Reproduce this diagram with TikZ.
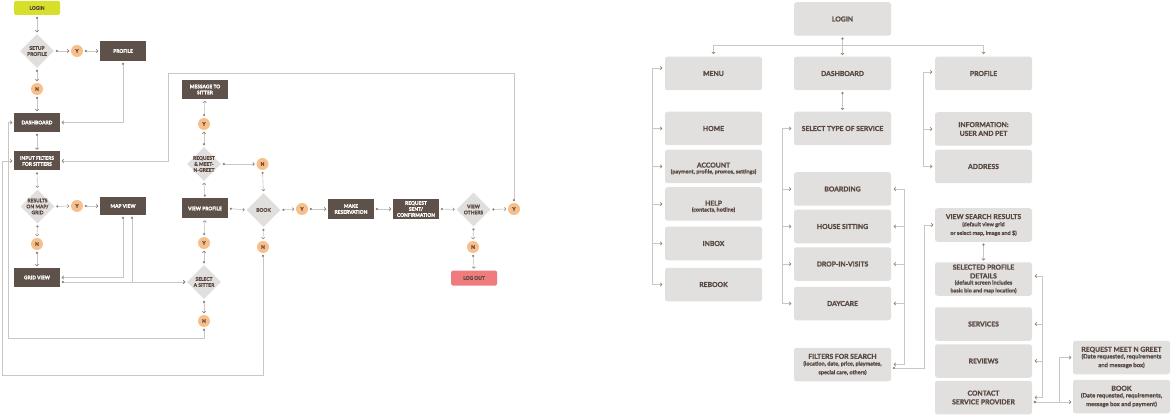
\documentclass[tikz,border=0pt]{standalone}
\usepackage{fontspec}
\setmainfont{Lato}[BoldFeatures={FakeBold=1.4}]
\usetikzlibrary{shapes.geometric,arrows.meta}
\definecolor{brownbox}{HTML}{5E514A}
\definecolor{tbrown}{HTML}{5B4A42}
\definecolor{diag}{HTML}{E0DFDE}
\definecolor{peach}{HTML}{F9BF8B}
\definecolor{lime}{HTML}{D6E02B}
\definecolor{salmon}{HTML}{F07B7D}
\definecolor{rgray}{HTML}{E1E0DF}
\definecolor{lineg}{HTML}{C9C6C4}
\definecolor{tipg}{HTML}{8C827D}
\newcommand\fLeft{\fontsize{4.9}{6}\selectfont\bfseries}
\newcommand\fRt{\fontsize{6.8}{8.7}\selectfont\bfseries}
\newcommand\fSub{\fontsize{5.5}{6.8}\selectfont\bfseries}
\newcommand\fSubB{\fontsize{5.9}{7}\selectfont\bfseries}
\begin{document}
\begin{tikzpicture}[x=1pt,y=-1pt,
 bbox/.style={fill=brownbox,text=white,minimum width=46pt,minimum height=19pt,inner sep=0pt,align=center,font=\fLeft},
 dia/.style={shape=diamond,fill=diag,minimum width=34pt,minimum height=34pt,inner sep=0pt},
 dtxt/.style={text=tbrown,align=center,font=\fLeft,inner sep=0pt},
 circ/.style={circle,fill=peach,minimum size=12pt,inner sep=0pt,text=tbrown,font=\fLeft},
 rbox/.style={fill=rgray,rounded corners=2.5pt,minimum width=97pt,minimum height=33.5pt,inner sep=0pt,align=center,text=tbrown,font=\fRt},
 c/.style={draw=lineg,line width=.6pt,{Diamond[length=2.4pt,width=2.4pt,color=tipg]}-{Straight Barb[length=1.6pt,width=3.2pt,color=tipg]},shorten <=1.5pt,shorten >=1.5pt},
 ch/.style={draw=lineg,line width=.6pt,-{Straight Barb[length=1.6pt,width=3.2pt,color=tipg]},shorten >=2.5pt},
 chh/.style={draw=lineg,line width=.6pt,{Straight Barb[length=1.6pt,width=3.2pt,color=tipg]}-{Straight Barb[length=1.6pt,width=3.2pt,color=tipg]},shorten <=2.5pt,shorten >=2.5pt}
]
\useasboundingbox[fill=white] (0,0) rectangle (1171,417);
% ---------------- left flowchart ----------------
\node[fill=lime,rounded corners=1.5pt,minimum width=46pt,minimum height=14pt,inner sep=0pt,text=tbrown,font=\fLeft] (llogin) at (37,8) {LOGIN};
\node[dia,label={[dtxt]center:SETUP\\PROFILE}] (setup) at (37,51) {};
\node[circ] (y1) at (77,51) {Y};
\node[bbox,minimum height=20pt] (lprofile) at (123,51) {PROFILE};
\node[circ] (n1) at (37,89) {N};
\node[bbox] (ldash) at (37,122.5) {DASHBOARD};
\node[bbox] (input) at (37,161) {INPUT FILTERS\\FOR SITTERS};
\node[dia,label={[dtxt]center:RESULTS\\ON MAP/\\GRID}] (results) at (37.5,206.5) {};
\node[circ] (y2) at (77,206) {Y};
\node[bbox,minimum height=18pt] (mapv) at (123,206) {MAP VIEW};
\node[circ] (n2) at (37,244) {N};
\node[bbox] (gridv) at (37,277.5) {GRID VIEW};
\node[dia,label={[dtxt]center:SELECT\\A SITTER}] (select) at (204,282) {};
\node[circ] (n6) at (204,321) {N};
\node[circ] (y3) at (204,243) {Y};
\node[bbox,minimum height=20pt] (viewp) at (205,208.5) {VIEW PROFILE};
\node[dia,label={[dtxt]center:REQUEST\\\& MEET-\\N-GREET}] (reqm) at (204,164) {};
\node[circ] (y4) at (204,124) {Y};
\node[bbox] (msg) at (205,89.5) {MESSAGE TO\\SITTER};
\node[circ] (n3) at (262.5,164) {N};
\node[dia,label={[dtxt]center:BOOK}] (lbook) at (263.5,210) {};
\node[circ] (y5) at (302,209) {Y};
\node[circ] (n4) at (263,247) {N};
\node[bbox,minimum height=20pt] (make) at (351,209) {MAKE\\RESERVATION};
\node[bbox,minimum height=20pt] (sent) at (416,209) {REQUEST\\SENT/\\CONFIRMATION};
\node[dia,label={[dtxt]center:VIEW\\OTHERS}] (others) at (473.5,209.5) {};
\node[circ] (y6) at (514,209) {Y};
\node[circ] (n5) at (473,247) {N};
\node[fill=salmon,rounded corners=1.5pt,minimum width=46pt,minimum height=15pt,inner sep=0pt,text=tbrown,font=\fLeft] (logout) at (474,278) {LOG OUT};
\coordinate (lo) at (2,375);
\coordinate (li) at (8,338);
\coordinate (tl) at (168,73);
\draw[c] (llogin.south) -- (setup.north);
\draw[c] (setup.east) -- (y1.west);
\draw[c] (y1.east) -- (lprofile.west);
\draw[c] (setup.south) -- (n1.north);
\draw[c] (n1.south) -- (ldash.north);
\draw[c] (lprofile.south) |- (ldash.east);
\draw[c] (ldash.south) -- (input.north);
\draw[c] (input.south) -- (results.north);
\draw[c] (results.east) -- (y2.west);
\draw[c] (y2.east) -- (mapv.west);
\draw[c] (results.south) -- (n2.north);
\draw[c] (n2.south) -- (gridv.north);
\draw[c] (mapv.south) |- (gridv.east);
\draw[c] ([yshift=-4.5pt]gridv.east) -- (select.west);
\draw[c] ([xshift=9pt]mapv.south) |- (select.west);
\draw[c] (select.north) -- (y3.south);
\draw[c] (y3.north) -- (viewp.south);
\draw[c] (viewp.north) -- (reqm.south);
\draw[c] (reqm.north) -- (y4.south);
\draw[c] (y4.north) -- (msg.south);
\draw[c] (reqm.east) -- (n3.west);
\draw[c] (n3.south) -- (lbook.north);
\draw[c] (viewp.east) -- (lbook.west);
\draw[c] (lbook.east) -- (y5.west);
\draw[c] (y5.east) -- (make.west);
\draw[c] (make.east) -- (sent.west);
\draw[c] (sent.east) -- (others.west);
\draw[c] (others.east) -- (y6.west);
\draw[c] (others.south) -- (n5.north);
\draw[c] (n5.south) -- (logout.north);
\draw[c] (lbook.south) -- (n4.north);
\draw[c] (n4.south) |- (lo) |- (input.west);
\draw[c] (select.south) -- (n6.north);
\draw[c] (n6.south) |- (li) |- (ldash.west);
\draw[c] (y6.north) |- (tl) |- (input.east);
% ---------------- right hierarchy ----------------
\node[rbox] (rlogin) at (842.5,19) {LOGIN};
\node[rbox] (menu) at (713.5,73.5) {MENU};
\node[rbox] (rdash) at (842.5,73.5) {DASHBOARD};
\node[rbox] (rprofile) at (983.5,73.5) {PROFILE};
\node[rbox] (home) at (713.5,128.5) {HOME};
\node[rbox] (selsvc) at (842.5,128.5) {SELECT TYPE OF SERVICE};
\node[rbox] (info) at (983.5,129) {INFORMATION:\\USER AND PET};
\node[rbox] (account) at (713.5,166.5) {\rule{0pt}{9pt}ACCOUNT\\[-2.8pt]\fSub(payment, profile, promos, settings)};
\node[rbox] (address) at (983.5,166.5) {ADDRESS};
\node[rbox] (help) at (713.5,204) {\rule{0pt}{10pt}HELP\\[-2.8pt]\fSub(contacts, hotline)};
\node[rbox] (boarding) at (842.5,189) {BOARDING};
\node[rbox] (house) at (842.5,226.5) {HOUSE SITTING};
\node[rbox] (drop) at (842.5,264) {DROP-IN-VISITS};
\node[rbox] (inbox) at (713.5,243.5) {INBOX};
\node[rbox] (rebook) at (713.5,284.5) {REBOOK};
\node[rbox] (daycare) at (842.5,303.5) {DAYCARE};
\node[rbox] (filters) at (842.5,364.5) {FILTERS FOR SEARCH\\[-2pt]\fSub(location, date, price, playmates,\\\fSub special care, others)};
\node[rbox] (viewsr) at (983.5,225) {VIEW SEARCH RESULTS\\[-1.5pt]\fSub(default view grid\\\fSub or select map, image and \$)};
\node[rbox] (selprof) at (983.5,279) {SELECTED PROFILE\\DETAILS\\[-2.5pt]\fSub(default screen includes\\[-0.8pt]\fSub basic bio and map location)};
\node[rbox] (services) at (983.5,324) {SERVICES};
\node[rbox] (reviews) at (983.5,361) {REVIEWS};
\node[rbox] (contact) at (983.5,397.5) {CONTACT\\SERVICE PROVIDER};
\node[rbox] (rmg) at (1121.5,357.5) {REQUEST MEET N GREET\\[-2pt]\fSubB(Date requested, requirements\\\fSubB and message box)};
\node[rbox] (rbook) at (1121.5,396.5) {BOOK\\[-2pt]\fSubB(Date requested, requirements,\\\fSubB message box and payment)};
\coordinate (mx) at (652,0);
\coordinate (sx) at (782,0);
\coordinate (fx) at (904,0);
\coordinate (px) at (923,0);
\coordinate (vx) at (924,0);
\coordinate (cx) at (1042,0);
\coordinate (bx) at (1059,0);
\coordinate (tj) at ([yshift=-9pt]rlogin.south);
\coordinate (ct) at ([yshift=-4.5pt]contact.east);
\draw[c] (rlogin.south) -- (rdash.north);
\draw[ch] (tj) -| (menu.north);
\draw[ch] (tj) -| (rprofile.north);
\draw[c] (rdash.south) -- (selsvc.north);
\draw[chh] ([yshift=5.5pt]menu.west) -| (mx |- rebook.west) -- (rebook.west);
\foreach \b in {home,account,help,inbox} \draw[ch] (mx |- \b.west) -- (\b.west);
\draw[chh] (selsvc.west) -| (sx |- daycare.west) -- (daycare.west);
\foreach \b in {boarding,house,drop} \draw[ch] (sx |- \b.west) -- (\b.west);
\draw[chh] (boarding.east) -| (fx |- filters.east) -- (filters.east);
\foreach \b in {house,drop,daycare} \draw[ch] (fx |- \b.east) -- (\b.east);
\draw[c] ([yshift=-3.5pt]filters.east) -| (vx |- viewsr.west) -- (viewsr.west);
\draw[chh] ([yshift=1.5pt]rprofile.west) -| (px |- address.west) -- (address.west);
\draw[ch] (px |- info.west) -- (info.west);
\draw[c] (viewsr.south) -- (selprof.north);
\draw[chh] ([yshift=3pt]selprof.east) -| (cx |- contact.east) -- (contact.east);
\foreach \b in {services,reviews} \draw[ch] (cx |- \b.east) -- (\b.east);
\draw[c] (ct) -| (bx |- rmg.west) -- (rmg.west);
\draw[c] (ct) -- (ct -| rbook.west);
\end{tikzpicture}
\end{document}
